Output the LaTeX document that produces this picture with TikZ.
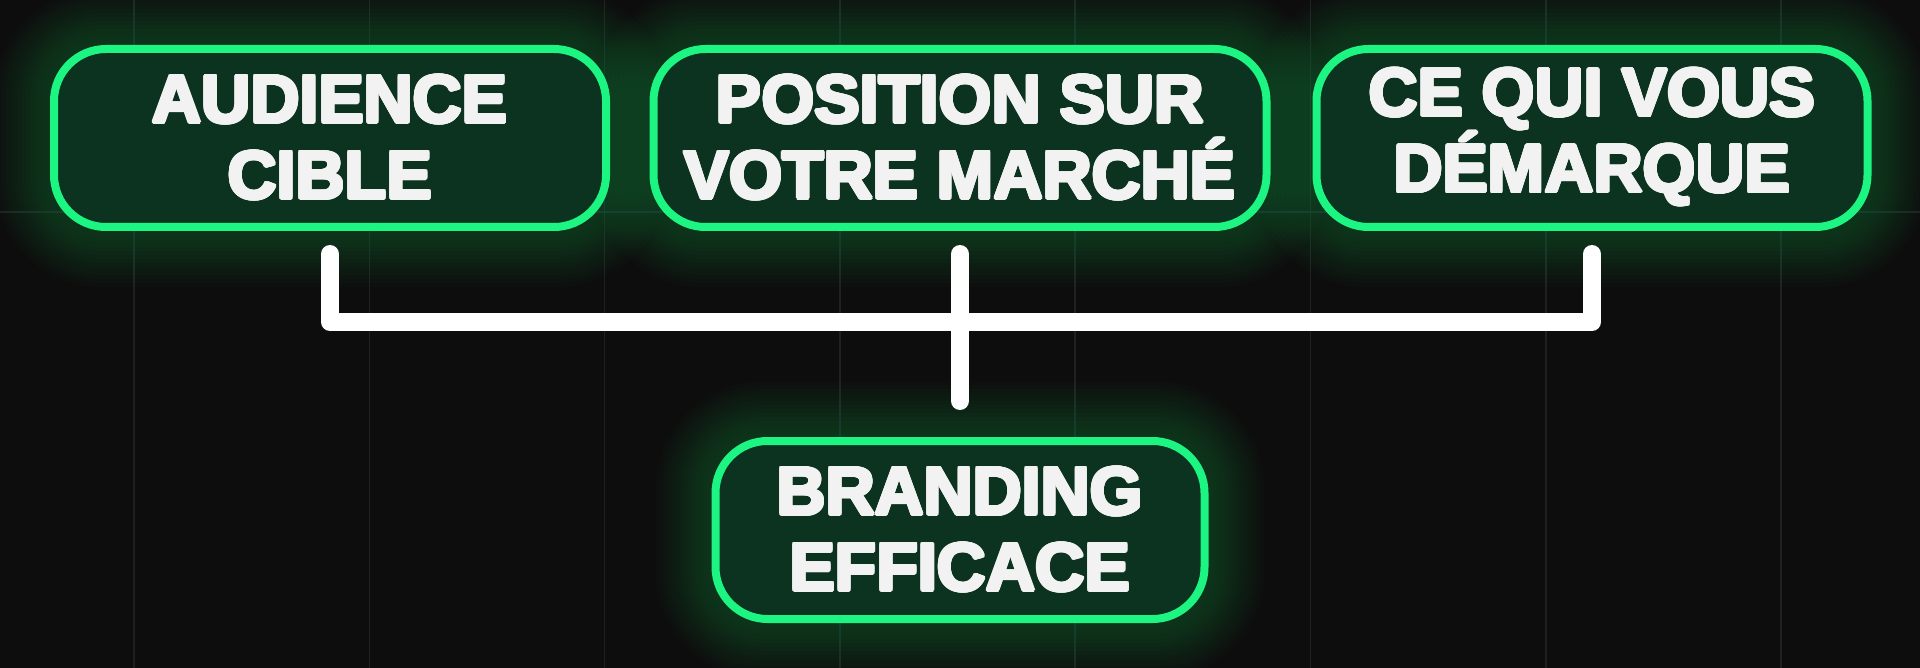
\documentclass[tikz,border=0pt]{standalone}
\usepackage{fontspec}
\setmainfont{Liberation Sans}
\usepackage{contour}
\usetikzlibrary{calc,backgrounds}
\definecolor{bgc}{RGB}{13,13,13}
\definecolor{boxfill}{RGB}{12,50,32}
\definecolor{neon}{RGB}{28,245,130}
\definecolor{txt}{RGB}{242,242,242}
\definecolor{gridc}{RGB}{32,32,32}
\contourlength{1.6pt}
\newcommand{\tl}[1]{\contour{txt}{#1}}
\begin{document}
\begin{tikzpicture}[x=1pt,y=-1pt,
  box/.style={draw=neon, line width=8pt, fill=boxfill, rounded corners=52pt,
    minimum height=178pt, align=center, text=txt, inner sep=0pt,
    font=\bfseries\fontsize{68}{76}\selectfont},
  conn/.style={draw=white, line width=18pt, line cap=round, line join=round},
  gridline/.style={draw=gridc, line width=1.5pt}]
\useasboundingbox (0,0) rectangle (1920,668);

\node[box, minimum width=552pt] (a) at (330,138) {\tl{AUDIENCE}\\\tl{CIBLE}};
\node[box, minimum width=613pt] (b) at (960,138) {\tl{POSITION SUR}\\\tl{VOTRE MARCHÉ}};
\node[box, minimum width=551pt] (c) at (1592,138) {\tl{CE QUI VOUS}\\\tl{DÉMARQUE}};
\node[box, minimum width=489pt] (d) at (960,530) {\tl{BRANDING}\\\tl{EFFICACE}};

\coordinate (hl) at (0,322);
\coordinate (ta) at ($(a.south)+(0pt,-23pt)$);
\coordinate (tb) at ($(b.south)+(0pt,-23pt)$);
\coordinate (tc) at ($(c.south)+(0pt,-23pt)$);
\coordinate (td) at ($(d.north)+(0pt,36pt)$);
\draw[conn] (ta) -- (ta |- hl) -- (tc |- hl) -- (tc);
\draw[conn] (tb) -- (tb |- td);

\begin{scope}[on background layer]
  \fill[bgc] (0,0) rectangle (1920,668);
  \foreach \k in {0,...,7}{
    \pgfmathsetmacro\gx{134+235.3*\k}
    \draw[gridline] (\gx,0) -- (\gx,668);
  }
  \draw[gridline] (0,212) -- (1920,212);
  \foreach \n in {a,b,c,d}{
    \foreach \i in {1,...,14}{
      \pgfmathsetmacro\rr{52+4*\i}
      \pgfmathsetmacro\dd{4*\i}
      \fill[neon!70!black, opacity=0.022, rounded corners=\rr pt]
        ($(\n.south west)+(-\dd pt,-\dd pt)$) rectangle ($(\n.north east)+(\dd pt,\dd pt)$);
    }
  }
\end{scope}
\end{tikzpicture}
\end{document}
